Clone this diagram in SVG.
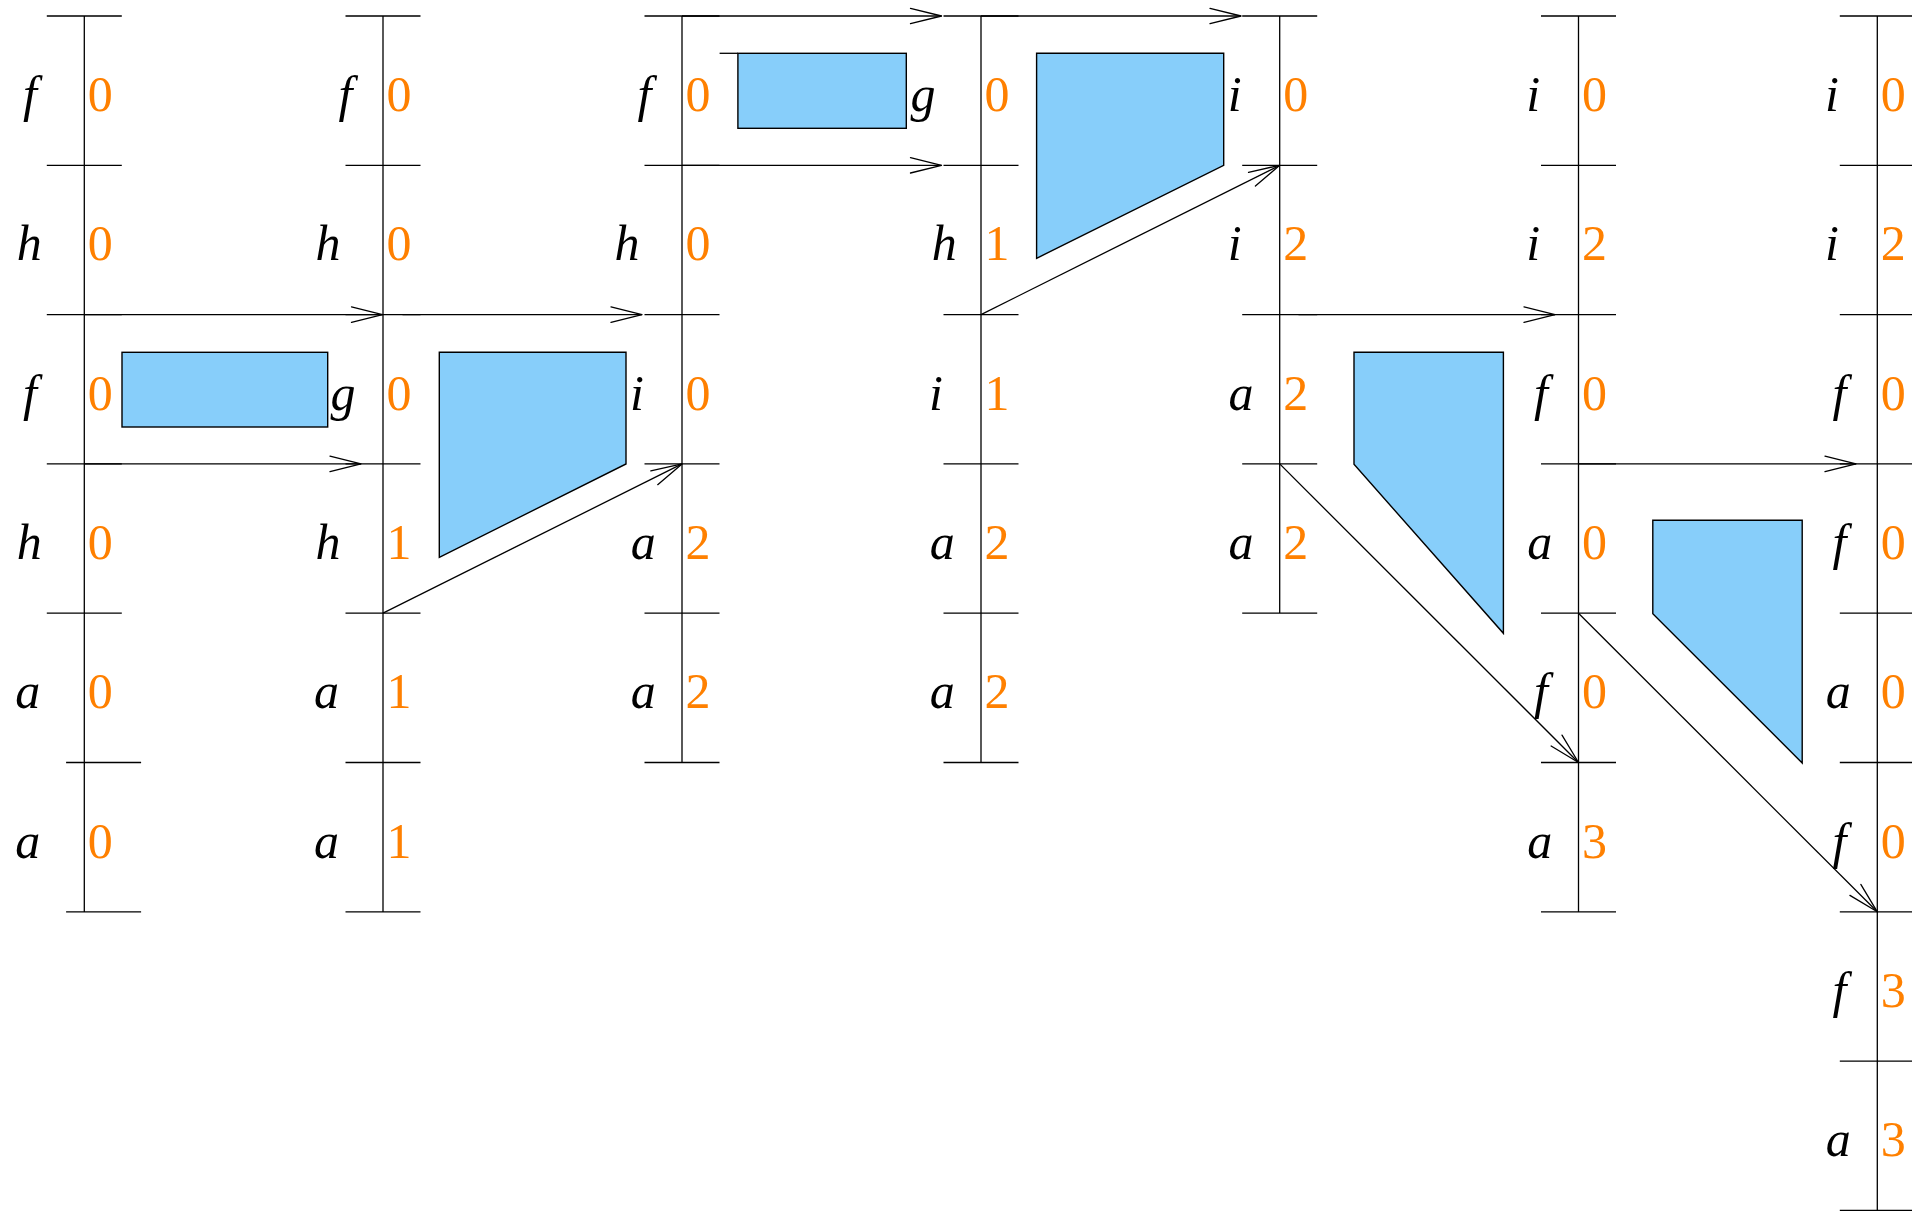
<svg xmlns="http://www.w3.org/2000/svg" width="1912" height="1212" viewBox="0 0 1912 1212">
<style>
.ln{stroke:#000;stroke-width:1.3;fill:none}
.sh{fill:#87cefa;stroke:#000;stroke-width:1.4}
.v{font-style:italic;font-size:50px;fill:#000}
.n{font-size:50px;fill:#ff8000}
.ar{stroke:#000;stroke-width:1.3;fill:none;marker-end:url(#ah)}
</style>
<defs>
<marker id="ah" markerUnits="userSpaceOnUse" orient="auto" refX="0" refY="0" markerWidth="40" markerHeight="20" viewBox="-34 -10 36 20" overflow="visible">
<path d="M-31,-7.7 L0,0 L-31,7.7" fill="none" stroke="#000" stroke-width="1.3" stroke-linejoin="round" stroke-linecap="round"/>
</marker>
</defs>
<rect width="1912" height="1212" fill="#fff"/>
<g font-family="Liberation Serif, serif">
<g id="col0">
<path class="ln" d="M84.3,16V911.8M46.8,16H121.8M46.8,165.3H121.8M46.8,314.6H121.8M46.8,463.9H121.8M46.8,613.2H121.8M66.1,762.5H141.1M66.1,911.8H141.1"/>
<text class="v" x="23.1" y="111">f</text><text class="n" x="87.8" y="111">0</text>
<text class="v" x="16.8" y="260.3">h</text><text class="n" x="87.8" y="260.3">0</text>
<text class="v" x="23.1" y="409.6">f</text><text class="n" x="87.8" y="409.6">0</text>
<text class="v" x="16.8" y="558.9">h</text><text class="n" x="87.8" y="558.9">0</text>
<text class="v" x="15.3" y="708.2">a</text><text class="n" x="87.8" y="708.2">0</text>
<text class="v" x="15.3" y="857.5">a</text><text class="n" x="87.8" y="857.5">0</text>
</g>

<g id="col1">
<path class="ln" d="M383,16V911.8M345.5,16H420.5M345.5,165.3H420.5M345.5,314.6H420.5M345.5,463.9H420.5M345.5,613.2H420.5M345.5,762.5H420.5M345.5,911.8H420.5"/>
<text class="v" x="338.5" y="111">f</text><text class="n" x="386.5" y="111">0</text>
<text class="v" x="315.5" y="260.3">h</text><text class="n" x="386.5" y="260.3">0</text>
<text class="v" x="330.5" y="409.6">g</text><text class="n" x="386.5" y="409.6">0</text>
<text class="v" x="315.5" y="558.9">h</text><text class="n" x="386.5" y="558.9">1</text>
<text class="v" x="314" y="708.2">a</text><text class="n" x="386.5" y="708.2">1</text>
<text class="v" x="314" y="857.5">a</text><text class="n" x="386.5" y="857.5">1</text>
</g>

<g id="col2">
<path class="ln" d="M682,16V762.5M644.5,16H719.5M644.5,165.3H719.5M644.5,314.6H719.5M644.5,463.9H719.5M644.5,613.2H719.5M644.5,762.5H719.5"/>
<text class="v" x="637.5" y="111">f</text><text class="n" x="685.5" y="111">0</text>
<text class="v" x="614.5" y="260.3">h</text><text class="n" x="685.5" y="260.3">0</text>
<text class="v" x="630" y="409.6">i</text><text class="n" x="685.5" y="409.6">0</text>
<text class="v" x="630.7" y="558.9">a</text><text class="n" x="685.5" y="558.9">2</text>
<text class="v" x="630.7" y="708.2">a</text><text class="n" x="685.5" y="708.2">2</text>
</g>

<g id="col3">
<path class="ln" d="M981,16V762.5M943.5,16H1018.5M943.5,165.3H1018.5M943.5,314.6H1018.5M943.5,463.9H1018.5M943.5,613.2H1018.5M943.5,762.5H1018.5"/>
<text class="v" x="910.5" y="111">g</text><text class="n" x="984.5" y="111">0</text>
<text class="v" x="931.7" y="260.3">h</text><text class="n" x="984.5" y="260.3">1</text>
<text class="v" x="929" y="409.6">i</text><text class="n" x="984.5" y="409.6">1</text>
<text class="v" x="929.7" y="558.9">a</text><text class="n" x="984.5" y="558.9">2</text>
<text class="v" x="929.7" y="708.2">a</text><text class="n" x="984.5" y="708.2">2</text>
</g>

<g id="col4">
<path class="ln" d="M1279.7,16V613.2M1242.2,16H1317.2M1242.2,165.3H1317.2M1242.2,314.6H1317.2M1242.2,463.9H1317.2M1242.2,613.2H1317.2"/>
<text class="v" x="1227.7" y="111">i</text><text class="n" x="1283.2" y="111">0</text>
<text class="v" x="1227.7" y="260.3">i</text><text class="n" x="1283.2" y="260.3">2</text>
<text class="v" x="1228.4" y="409.6">a</text><text class="n" x="1283.2" y="409.6">2</text>
<text class="v" x="1228.4" y="558.9">a</text><text class="n" x="1283.2" y="558.9">2</text>
</g>

<g id="col5">
<path class="ln" d="M1578.5,16V911.8M1541,16H1616M1541,165.3H1616M1541,314.6H1616M1541,463.9H1616M1541,613.2H1616M1541,762.5H1616M1541,911.8H1616"/>
<text class="v" x="1526.3" y="111">i</text><text class="n" x="1582" y="111">0</text>
<text class="v" x="1526.3" y="260.3">i</text><text class="n" x="1582" y="260.3">2</text>
<text class="v" x="1534" y="409.6">f</text><text class="n" x="1582" y="409.6">0</text>
<text class="v" x="1527.2" y="558.9">a</text><text class="n" x="1582" y="558.9">0</text>
<text class="v" x="1534" y="708.2">f</text><text class="n" x="1582" y="708.2">0</text>
<text class="v" x="1527.2" y="857.5">a</text><text class="n" x="1582" y="857.5">3</text>
</g>

<g id="col6">
<path class="ln" d="M1877.3,16V1210.4M1839.8,16H1914M1839.8,165.3H1914M1839.8,314.6H1914M1839.8,463.9H1914M1839.8,613.2H1914M1839.8,762.5H1914M1839.8,911.8H1914M1839.8,1061.1H1914M1839.8,1210.4H1914"/>
<text class="v" x="1825" y="111">i</text><text class="n" x="1880.8" y="111">0</text>
<text class="v" x="1825" y="260.3">i</text><text class="n" x="1880.8" y="260.3">2</text>
<text class="v" x="1832.5" y="409.6">f</text><text class="n" x="1880.8" y="409.6">0</text>
<text class="v" x="1832.5" y="558.9">f</text><text class="n" x="1880.8" y="558.9">0</text>
<text class="v" x="1825.8" y="708.2">a</text><text class="n" x="1880.8" y="708.2">0</text>
<text class="v" x="1832.5" y="857.5">f</text><text class="n" x="1880.8" y="857.5">0</text>
<text class="v" x="1832.5" y="1006.8">f</text><text class="n" x="1880.8" y="1006.8">3</text>
<text class="v" x="1825.8" y="1156.1">a</text><text class="n" x="1880.8" y="1156.1">3</text>
</g>
</g>

<g id="shape1"><rect class="sh" x="122" y="352.3" width="205.7" height="74.7"/></g>
<g id="shape2"><polygon class="sh" points="439.3,352.3 626,352.3 626,464 439.3,557.3"/></g>
<g id="shape3"><rect class="sh" x="737.9" y="53.3" width="168.4" height="75"/><path class="ln" d="M719.6,53.3H737.9"/></g>
<g id="shape4"><polygon class="sh" points="1036.6,53.3 1223.7,53.3 1223.7,165.3 1036.6,258.3"/></g>
<g id="shape5"><polygon class="sh" points="1354,352.3 1503.4,352.3 1503.4,633.3 1354,464.3"/></g>
<g id="shape6"><polygon class="sh" points="1652.8,520.3 1802.2,520.3 1802.2,763 1652.8,613.7"/></g>

<g id="connectors">
<path class="ar" d="M84.3,314.6H382.5"/>
<path class="ar" d="M84.3,463.9H361"/>
<path class="ar" d="M402.5,314.6H642"/>
<path class="ar" d="M383,613.2L682,463.9"/>
<path class="ar" d="M682,16H941.5"/>
<path class="ar" d="M682,165.3H941.5"/>
<path class="ar" d="M981,16H1241"/>
<path class="ar" d="M981,314.6L1279.7,165.3"/>
<path class="ar" d="M1298.5,314.6H1555"/>
<path class="ar" d="M1279.7,463.9L1578.5,762.5"/>
<path class="ar" d="M1578.5,463.9H1856"/>
<path class="ar" d="M1578.5,613.2L1877.3,911.8"/>
</g>
</svg>
